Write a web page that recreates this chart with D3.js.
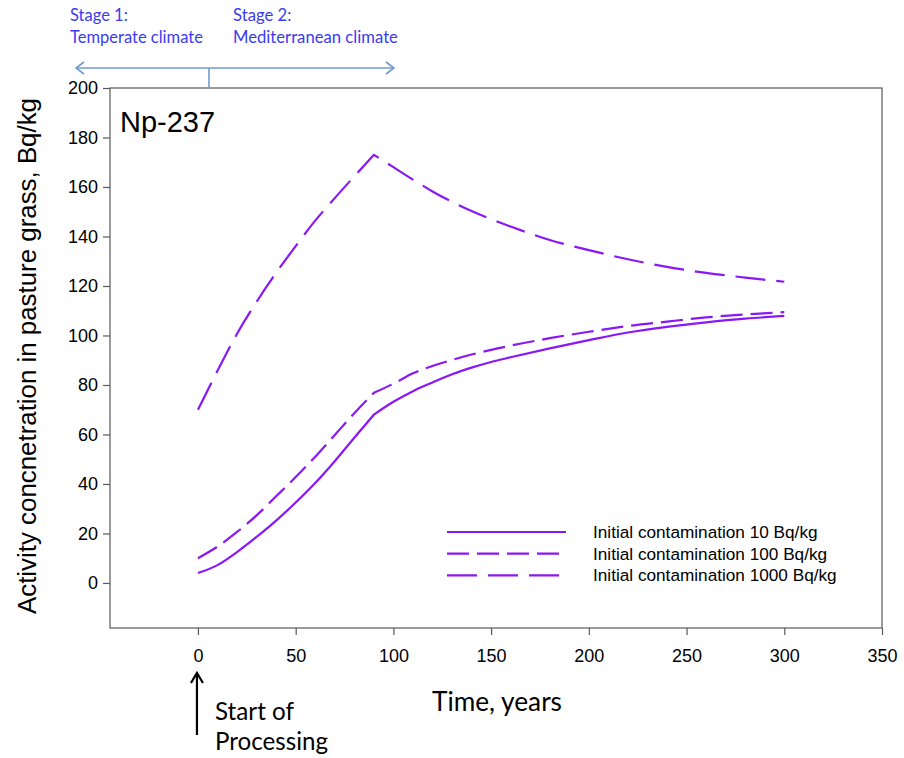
<!DOCTYPE html>
<html>
<head>
<meta charset="utf-8">
<script src="https://cdn.jsdelivr.net/npm/d3@7/dist/d3.min.js"></script>
<style>
  html, body { margin: 0; padding: 0; background: #fff; }
  svg { display: block; }
</style>
</head>
<body>
<svg id="chart" width="904" height="758"></svg>
<script>
// Np-237 activity in pasture grass over time, three initial contamination levels
const years = [0, 10, 20, 30, 40, 50, 60, 70, 80, 90, 100, 110, 120, 130, 140, 150, 160, 180, 200, 220, 240, 260, 280, 300];
const contam10   = [4, 7.2, 12.5, 18.6, 25.2, 32.5, 40.4, 49.2, 58.7, 68, 73.2, 77.5, 81, 84.3, 87, 89.3, 91.2, 94.8, 98.1, 101.2, 103.5, 105.3, 106.8, 107.9];
const contam100  = [10, 14.7, 20.6, 27.3, 35, 42.8, 51, 59.8, 68.6, 76.8, 80.5, 84.7, 87.7, 90.1, 92.3, 94.2, 95.9, 98.9, 101.5, 103.8, 105.6, 107.3, 108.5, 109.4];
const contam1000 = [70, 85.7, 100.7, 113.6, 125.3, 136.1, 146.4, 155.5, 164.3, 173, 168, 163, 158.2, 154, 150.3, 147, 144, 138.6, 134.5, 130.8, 127.7, 125.3, 123.4, 121.7];
const seriesNames = ["Initial contamination 10 Bq/kg", "Initial contamination 100 Bq/kg", "Initial contamination 1000 Bq/kg"];
const climateChangeYear = 90;
const xTicks = [0, 50, 100, 150, 200, 250, 300, 350];
const yTicks = [0, 20, 40, 60, 80, 100, 120, 140, 160, 180, 200];

const svg = d3.select("#chart");
const plot = { left: 110, right: 882, top: 88, bottom: 628 };
const lineColor = "#8a17f5";
const axisColor = "#595959";
const numFont = "'Liberation Sans', Arial, sans-serif";
const labelFont = "Lato, 'Open Sans', sans-serif";
const stageColor = "#3b3bee";
const dashes = [null, "22,8", "30,11"];

const x = d3.scaleLinear().domain([-45, 350]).range([plot.left, plot.right]);
const y = d3.scaleLinear().domain([-18.2, 200]).range([plot.bottom, plot.top]);

// fit a text element to a target width by adjusting its font size
function fitWidth(sel, target) {
  const node = sel.node();
  const fs = parseFloat(sel.attr("font-size"));
  const w = node.getComputedTextLength();
  if (w > 0) sel.attr("font-size", (fs * target / w).toFixed(2));
  return sel;
}

// frame
svg.append("rect")
  .attr("x", plot.left).attr("y", plot.top)
  .attr("width", plot.right - plot.left).attr("height", plot.bottom - plot.top)
  .attr("fill", "none").attr("stroke", axisColor).attr("stroke-width", 1.2);

// y axis
const yAxis = svg.append("g")
  .attr("transform", `translate(${plot.left},0)`)
  .call(d3.axisLeft(y).tickValues(yTicks).tickSize(7).tickPadding(5).tickFormat(d3.format("d")));
yAxis.select(".domain").remove();
yAxis.selectAll(".tick line").attr("stroke", axisColor).attr("stroke-width", 1.2);
yAxis.selectAll(".tick text").attr("font-family", numFont).attr("font-size", 18).attr("fill", "#000");

// x axis
const xAxis = svg.append("g")
  .attr("transform", `translate(0,${plot.bottom})`)
  .call(d3.axisBottom(x).tickValues(xTicks).tickSize(7).tickPadding(14).tickFormat(d3.format("d")));
xAxis.select(".domain").remove();
xAxis.selectAll(".tick line").attr("stroke", axisColor).attr("stroke-width", 1.2);
xAxis.selectAll(".tick text").attr("font-family", numFont).attr("font-size", 18).attr("fill", "#000");

// curves: smooth within each climate stage, joined with a corner at the change of climate
const seriesValues = [contam10, contam100, contam1000];
const line = d3.line()
  .x(d => x(d[0]))
  .y(d => y(d[1]))
  .curve(d3.curveMonotoneX);

seriesValues.forEach((vals, i) => {
  const pts = years.map((t, j) => [t, vals[j]]);
  const stage1 = pts.filter(p => p[0] <= climateChangeYear);
  const stage2 = pts.filter(p => p[0] >= climateChangeYear);
  const d = line(stage1) + line(stage2).replace(/^M/, "L");
  svg.append("path")
    .attr("d", d)
    .attr("fill", "none")
    .attr("stroke", lineColor)
    .attr("stroke-width", 2.2)
    .attr("stroke-linejoin", "miter")
    .attr("stroke-dasharray", dashes[i]);
});

// legend
const legend = svg.append("g");
seriesNames.forEach((name, i) => {
  const ly = 532 + i * 21.7;
  legend.append("line")
    .attr("x1", 447).attr("x2", 566).attr("y1", ly).attr("y2", ly)
    .attr("stroke", lineColor).attr("stroke-width", 2.2)
    .attr("stroke-dasharray", dashes[i]);
  legend.append("text")
    .attr("x", 593).attr("y", ly).attr("dy", "0.35em")
    .attr("font-family", numFont).attr("font-size", 17.2).attr("fill", "#000")
    .text(name);
});

// nuclide label
svg.append("text")
  .attr("x", 120).attr("y", 132)
  .attr("font-family", numFont).attr("font-size", 29).attr("fill", "#000")
  .text("Np-237");

// y axis title
const yTitle = svg.append("text")
  .attr("transform", "translate(36,356) rotate(-90)")
  .attr("text-anchor", "middle")
  .attr("font-family", numFont).attr("font-size", 22).attr("fill", "#000")
  .text("Activity concnetration in pasture grass, Bq/kg");
fitWidth(yTitle, 516);

// x axis title
const xTitle = svg.append("text")
  .attr("x", 432).attr("y", 711)
  .attr("font-family", labelFont).attr("font-size", 24).attr("fill", "#000")
  .text("Time, years");
fitWidth(xTitle, 130);

// start of processing marker
const arrowX = x(0) - 1;
svg.append("line")
  .attr("x1", arrowX).attr("x2", arrowX).attr("y1", 674).attr("y2", 735)
  .attr("stroke", "#000").attr("stroke-width", 2.2);
svg.append("path")
  .attr("d", `M${arrowX - 6},${683} L${arrowX},${673} L${arrowX + 6},${683}`)
  .attr("fill", "none").attr("stroke", "#000").attr("stroke-width", 2.2);
const start1 = svg.append("text")
  .attr("x", 215).attr("y", 720)
  .attr("font-family", labelFont).attr("font-size", 20).attr("fill", "#000")
  .text("Start of");
fitWidth(start1, 79);
const start2 = svg.append("text")
  .attr("x", 215).attr("y", 750)
  .attr("font-family", labelFont).attr("font-size", 20).attr("fill", "#000")
  .text("Processing");
fitWidth(start2, 113);

// climate stages
const stages = [
  { x: 70, lines: ["Stage 1:", "Temperate climate"], width: 133 },
  { x: 233, lines: ["Stage 2:", "Mediterranean climate"], width: 165 }
];
stages.forEach(s => {
  const t2 = svg.append("text")
    .attr("x", s.x).attr("y", 43)
    .attr("font-family", labelFont).attr("font-size", 15).attr("fill", stageColor)
    .text(s.lines[1]);
  fitWidth(t2, s.width);
  svg.append("text")
    .attr("x", s.x).attr("y", 21)
    .attr("font-family", labelFont).attr("font-size", t2.attr("font-size")).attr("fill", stageColor)
    .text(s.lines[0]);
});

const stageArrow = "#6f9bd3";
const ay = 68;
svg.append("line")
  .attr("x1", 76).attr("x2", 394).attr("y1", ay).attr("y2", ay)
  .attr("stroke", stageArrow).attr("stroke-width", 1.6);
svg.append("path")
  .attr("d", `M${84},${ay - 6} L${76},${ay} L${84},${ay + 6}`)
  .attr("fill", "none").attr("stroke", stageArrow).attr("stroke-width", 1.6);
svg.append("path")
  .attr("d", `M${386},${ay - 6} L${394},${ay} L${386},${ay + 6}`)
  .attr("fill", "none").attr("stroke", stageArrow).attr("stroke-width", 1.6);
svg.append("line")
  .attr("x1", 209).attr("x2", 209).attr("y1", ay).attr("y2", plot.top)
  .attr("stroke", stageArrow).attr("stroke-width", 1.6);
</script>
</body>
</html>
